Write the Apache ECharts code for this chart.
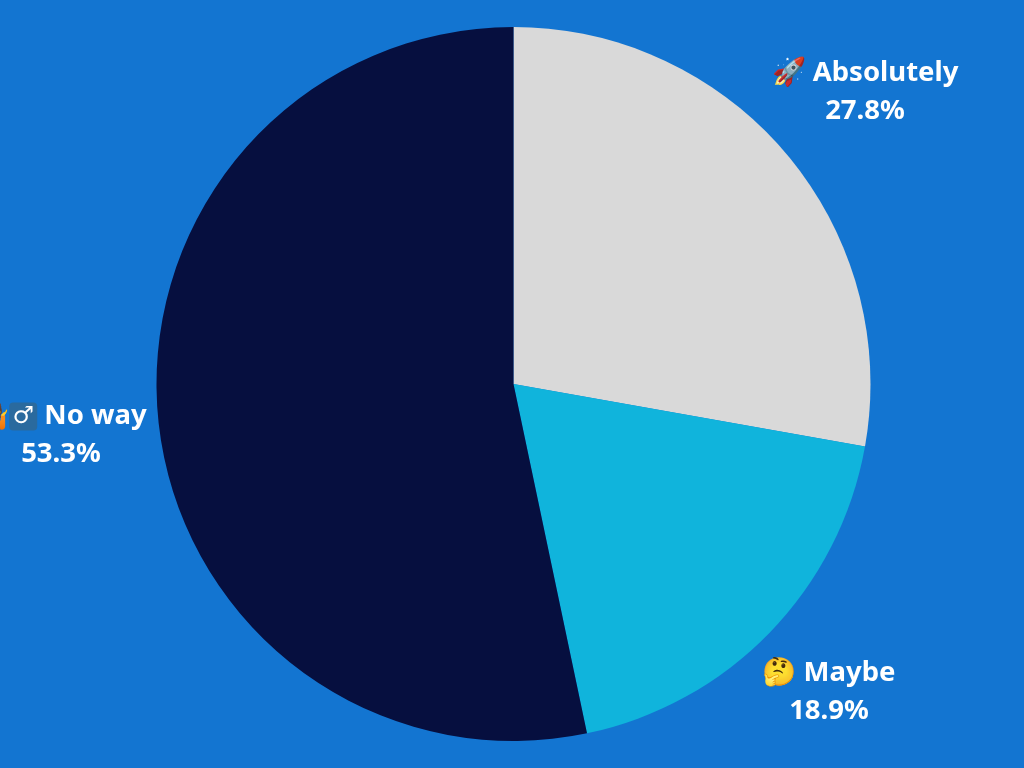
<!DOCTYPE html>
<html>
<head>
<meta charset="utf-8">
<style>html,body{margin:0;padding:0;background:#1375d1}#chart{width:1024px;height:768px}</style>
<script src="https://cdn.jsdelivr.net/npm/echarts@6/dist/echarts.min.js"></script>
</head>
<body>
<div id="chart"></div>
<script>
const categories = ['Absolutely', 'Maybe', 'No way'];
const categoryIcons = ['{name|🚀 }', '{name|🤔 }', '{name|🤷}{sign|♂\uFE0E}{name| }'];
const shares = [27.8, 18.9, 53.3];
const sliceColors = ['#d9d9d9', '#10b4dc', '#060f3f'];
// Label anchor points, centre of each two-line label
const labelCentres = [[865, 92.5], [829, 692.5], [61, 435.5]];

const labelText = {
  color: '#ffffff',
  fontFamily: '"Noto Sans", sans-serif',
  fontWeight: 700,
  lineHeight: 38
};

const chart = echarts.init(document.getElementById('chart'));
chart.setOption({
  backgroundColor: '#1375d1',
  animation: false,
  series: [{
    type: 'pie',
    center: [513.5, 384],
    radius: [0, 357],
    startAngle: 90,
    clockwise: true,
    silent: true,
    data: categories.map((name, i) => ({
      name, value: shares[i], itemStyle: { color: sliceColors[i] }
    })),
    label: {
      show: true,
      position: 'outside',
      overflow: 'none',
      ...labelText,
      fontSize: 27.5,
      formatter: p => categoryIcons[p.dataIndex] + '{name|' + p.name + '}\n{pct|' + p.value.toFixed(1) + '%}',
      rich: {
        name: { ...labelText, fontSize: 27.5 },
        pct: { ...labelText, fontSize: 27.5 },
        // Male sign drawn as a rounded emoji-style tile
        sign: {
          color: '#ffffff',
          fontFamily: '"DejaVu Sans", sans-serif',
          fontSize: 24,
          width: 28,
          height: 28,
          lineHeight: 28,
          align: 'center',
          backgroundColor: '#2a6a9e',
          borderRadius: 4
        }
      }
    },
    labelLine: { show: false },
    labelLayout: params => {
      const c = labelCentres[params.dataIndex];
      return { x: c[0], y: c[1], align: 'center', verticalAlign: 'middle' };
    }
  }]
});
</script>
</body>
</html>
